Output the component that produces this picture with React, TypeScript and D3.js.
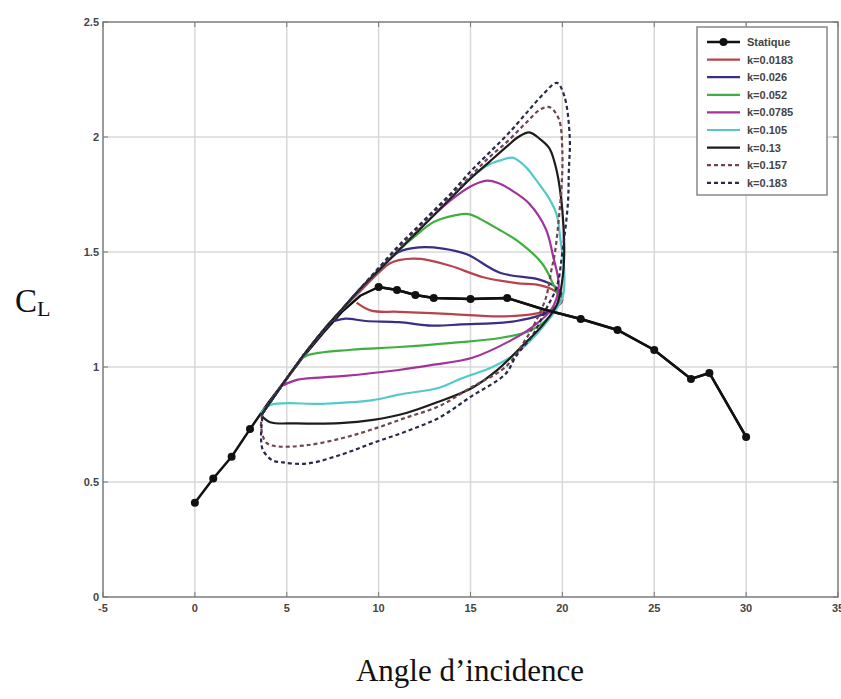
import React from "react";
import * as d3 from "d3";

const xTicks = [-5, 0, 5, 10, 15, 20, 25, 30, 35];
const xTickLabels = ["-5", "0", "5", "10", "15", "20", "25", "30", "35"];
const yTicks = [0, 0.5, 1, 1.5, 2, 2.5];
const yTickLabels = ["0", "0.5", "1", "1.5", "2", "2.5"];

// static curve: line vertices; markers are drawn only on measured points (hidden ones under the loops omitted)
const statique: [number, number][] = [
  [0, 0.41], [1, 0.515], [2, 0.61], [3, 0.73], [4, 0.845], [5, 0.95], [6, 1.055], [7, 1.15],
  [8, 1.24], [9, 1.31], [10, 1.348], [11, 1.335], [12, 1.313], [13, 1.3], [15, 1.296],
  [17, 1.3], [19, 1.25], [21, 1.209], [23, 1.161], [25, 1.074], [27, 0.948], [28, 0.974], [30, 0.696],
];
const statiqueMarkers: [number, number][] = [
  [0, 0.41], [1, 0.515], [2, 0.61], [3, 0.73], [10, 1.348], [11, 1.335], [12, 1.313], [13, 1.3],
  [15, 1.296], [17, 1.3], [21, 1.209], [23, 1.161], [25, 1.074], [27, 0.948], [28, 0.974], [30, 0.696],
];

const k0183: [number, number][] = [
  [3.6, 0.79], [5, 0.95], [6, 1.06], [7, 1.16], [8, 1.25], [9, 1.33], [10, 1.41], [10.6, 1.45],
  [11.1, 1.465], [12.3, 1.47], [13.9, 1.44], [15.7, 1.39], [17.5, 1.365], [18.8, 1.355], [19.6, 1.33],
  [20.0, 1.29], [19.4, 1.25], [18.4, 1.23], [16.6, 1.22], [14, 1.23], [11.1, 1.24], [9.6, 1.245], [8.8, 1.28],
];
const k026: [number, number][] = [
  [3.6, 0.79], [5, 0.95], [6, 1.06], [7, 1.16], [8, 1.25], [9, 1.34], [10, 1.42], [11.1, 1.5],
  [12.2, 1.52], [13.5, 1.515], [14.8, 1.49], [16.6, 1.41], [18.75, 1.38], [19.6, 1.35], [20.0, 1.31],
  [19.5, 1.25], [17.5, 1.2], [14.5, 1.185], [12.9, 1.18], [11.1, 1.195], [9.3, 1.2], [8.2, 1.21], [7.6, 1.2],
];
const k052: [number, number][] = [
  [3.6, 0.79], [5, 0.95], [6, 1.06], [7, 1.16], [8, 1.25], [9, 1.34], [10, 1.42], [11, 1.5], [12, 1.57],
  [13, 1.63], [14.2, 1.66], [14.9, 1.665], [15.5, 1.645], [16.5, 1.6], [17.7, 1.54], [18.9, 1.45],
  [19.5, 1.36], [19.8, 1.3], [19.3, 1.22], [18.3, 1.16], [16.6, 1.126], [14, 1.105], [11.1, 1.087],
  [8.5, 1.075], [6.1, 1.05], [5.6, 1.02],
];
const k0785: [number, number][] = [
  [3.6, 0.79], [5, 0.95], [6, 1.06], [7, 1.16], [8, 1.25], [9, 1.34], [10, 1.42], [11, 1.5], [12, 1.58],
  [13, 1.66], [14, 1.73], [15, 1.785], [15.9, 1.81], [16.5, 1.8], [17.3, 1.765], [18.2, 1.71],
  [19.1, 1.6], [19.5, 1.48], [19.8, 1.35], [19.4, 1.25], [18.3, 1.17], [17.3, 1.12], [15.1, 1.04],
  [13, 1.01], [11.1, 0.987], [8, 0.96], [5.6, 0.945], [4.8, 0.92],
];
const k105: [number, number][] = [
  [3.6, 0.79], [5, 0.95], [6, 1.06], [7, 1.16], [8, 1.25], [9, 1.34], [10, 1.42], [11, 1.5], [12, 1.58],
  [13, 1.66], [14, 1.74], [15, 1.82], [16, 1.88], [16.7, 1.9], [17.3, 1.91], [18.0, 1.87], [18.6, 1.81],
  [19.3, 1.73], [19.7, 1.66], [19.9, 1.55], [20.1, 1.42], [20.0, 1.3], [19.0, 1.18], [17.5, 1.06],
  [16.2, 1.0], [14.5, 0.95], [13.3, 0.91], [11.1, 0.88], [9.7, 0.856], [7, 0.84], [4.1, 0.835], [3.6, 0.8],
];
const k13: [number, number][] = [
  [3.6, 0.79], [5, 0.95], [6, 1.06], [7, 1.16], [8, 1.25], [9, 1.34], [10, 1.42], [11, 1.5], [12, 1.58],
  [13, 1.66], [14, 1.74], [15, 1.82], [16, 1.89], [17, 1.96], [17.6, 2.0], [18.2, 2.02], [18.8, 1.99],
  [19.3, 1.95], [19.7, 1.85], [20.0, 1.68], [20.1, 1.5], [20.0, 1.38], [19.7, 1.27], [18.9, 1.18],
  [17.8, 1.09], [16.5, 0.99], [15.1, 0.91], [13.3, 0.85], [11.5, 0.8], [9.7, 0.77], [7.9, 0.756],
  [5.5, 0.755], [4.1, 0.76], [3.6, 0.79],
];
const k157: [number, number][] = [
  [3.7, 0.8], [5, 0.95], [6, 1.06], [7, 1.16], [8, 1.25], [9, 1.34], [10, 1.43], [11, 1.51], [12, 1.59],
  [13, 1.67], [14, 1.75], [15, 1.83], [16, 1.91], [17, 1.98], [18, 2.06], [18.8, 2.12], [19.3, 2.13],
  [19.8, 2.08], [20.0, 1.93], [19.95, 1.78], [19.8, 1.64], [19.6, 1.5], [19.4, 1.42], [19.1, 1.3],
  [18.5, 1.19], [18, 1.12], [16.9, 1.0], [15, 0.91], [13.3, 0.83], [11.5, 0.78], [9.7, 0.73], [8, 0.69],
  [6.1, 0.66], [4.5, 0.655], [3.9, 0.67], [3.6, 0.74], [3.7, 0.8],
];
const k183: [number, number][] = [
  [3.7, 0.8], [5, 0.95], [6, 1.06], [7, 1.16], [8, 1.25], [9, 1.34], [10, 1.43], [11, 1.52], [12, 1.6],
  [13, 1.68], [14, 1.76], [15, 1.85], [16, 1.93], [17, 2.01], [18, 2.1], [19, 2.19], [19.7, 2.235],
  [20.1, 2.18], [20.4, 2.0], [20.35, 1.85], [20.3, 1.71], [20.0, 1.5], [19.7, 1.35], [19.1, 1.25],
  [18.4, 1.14], [17.5, 1.05], [16.9, 0.97], [15, 0.87], [13.3, 0.78], [11.5, 0.72], [9.7, 0.67],
  [8, 0.62], [6.1, 0.58], [4.8, 0.585], [4.2, 0.595], [3.7, 0.64], [3.6, 0.7], [3.7, 0.8],
];

const seriesNames = ["Statique", "k=0.0183", "k=0.026", "k=0.052", "k=0.0785", "k=0.105", "k=0.13", "k=0.157", "k=0.183"];

const loops = [
  { name: "k=0.0183", data: k0183, color: "#b8434a", dash: "" },
  { name: "k=0.026", data: k026, color: "#3b2c86", dash: "" },
  { name: "k=0.052", data: k052, color: "#3fb03f", dash: "" },
  { name: "k=0.0785", data: k0785, color: "#a2329c", dash: "" },
  { name: "k=0.105", data: k105, color: "#55c9c9", dash: "" },
  { name: "k=0.13", data: k13, color: "#1c1c1c", dash: "" },
  { name: "k=0.157", data: k157, color: "#6e4652", dash: "4 3" },
  { name: "k=0.183", data: k183, color: "#2a2a48", dash: "4 3" },
];

export default function App() {
  const W = 841, H = 699;
  const x = d3.scaleLinear().domain([-5, 35]).range([103, 838]);
  const y = d3.scaleLinear().domain([0, 2.5]).range([597, 22]);
  const line = d3
    .line<[number, number]>()
    .x((d) => x(d[0]))
    .y((d) => y(d[1]))
    .curve(d3.curveCatmullRom.alpha(0.5));
  const straight = d3
    .line<[number, number]>()
    .x((d) => x(d[0]))
    .y((d) => y(d[1]));

  const legX = 697, legY = 27, legW = 130, legH = 168;
  const rowH = 17.6;

  return (
    <div style={{ position: "absolute", left: 0, top: 0, width: W, height: H, background: "#fff" }}>
      <svg width={W} height={H} style={{ display: "block" }}>
        <rect x={0} y={0} width={W} height={H} fill="#fff" />
        {xTicks.map((t) => (
          <line key={"gx" + t} x1={x(t)} x2={x(t)} y1={y(2.5)} y2={y(0)} stroke="#d8d8d8" strokeWidth={1.5} />
        ))}
        {yTicks.map((t) => (
          <line key={"gy" + t} x1={x(-5)} x2={x(35)} y1={y(t)} y2={y(t)} stroke="#d8d8d8" strokeWidth={1.5} />
        ))}
        <rect x={x(-5)} y={y(2.5)} width={x(35) - x(-5)} height={y(0) - y(2.5)} fill="none" stroke="#8a8a8a" strokeWidth={1.6} />
        {xTicks.map((t) => (
          <g key={"tx" + t}>
            <line x1={x(t)} x2={x(t)} y1={y(0)} y2={y(0) - 5} stroke="#777" />
            <line x1={x(t)} x2={x(t)} y1={y(2.5)} y2={y(2.5) + 5} stroke="#777" />
          </g>
        ))}
        {yTicks.map((t) => (
          <g key={"ty" + t}>
            <line x1={x(-5)} x2={x(-5) + 5} y1={y(t)} y2={y(t)} stroke="#777" />
            <line x1={x(35)} x2={x(35) - 5} y1={y(t)} y2={y(t)} stroke="#777" />
          </g>
        ))}
        {xTicks.map((t, i) => (
          <text key={"lx" + t} x={x(t)} y={y(0) + 15} textAnchor="middle" fontFamily="Liberation Sans, Arial, sans-serif" fontSize={11} fontWeight="bold" fill="#444">
            {xTickLabels[i]}
          </text>
        ))}
        {yTicks.map((t, i) => (
          <text key={"ly" + t} x={x(-5) - 4} y={y(t) + 4} textAnchor="end" fontFamily="Liberation Sans, Arial, sans-serif" fontSize={11} fontWeight="bold" fill="#444">
            {yTickLabels[i]}
          </text>
        ))}
        <path d={straight(statique) || ""} fill="none" stroke="#111" strokeWidth={2.5} />
        {loops.map((s) => (
          <path key={s.name} d={line(s.data) || ""} fill="none" stroke={s.color} strokeWidth={2.2} strokeDasharray={s.dash || undefined} strokeLinejoin="round" />
        ))}
        <path d={straight(statique.filter((d) => d[0] >= 10)) || ""} fill="none" stroke="#111" strokeWidth={2.5} />
        {statiqueMarkers.map((d, i) => (
          <circle key={"p" + i} cx={x(d[0])} cy={y(d[1])} r={4} fill="#111" />
        ))}
        <rect x={legX} y={legY} width={legW} height={legH} fill="#fff" stroke="#888" strokeWidth={1.5} />
        {seriesNames.map((n, i) => {
          const cy = legY + 15 + i * rowH;
          const lp = i === 0 ? null : loops[i - 1];
          return (
            <g key={"leg" + n}>
              <line x1={legX + 10} x2={legX + 43} y1={cy} y2={cy} stroke={lp ? lp.color : "#111"} strokeWidth={lp ? 2.2 : 2.5} strokeDasharray={lp && lp.dash ? "4 3" : undefined} />
              {i === 0 && <circle cx={legX + 26.5} cy={cy} r={4} fill="#111" />}
              <text x={legX + 50} y={cy + 4} fontFamily="Liberation Sans, Arial, sans-serif" fontSize={11} fontWeight="bold" fill="#444">
                {n}
              </text>
            </g>
          );
        })}
        <text x={15} y={312} fontFamily="Liberation Serif, Times New Roman, serif" fontSize={33} fill="#111">
          C
          <tspan fontSize={22} dy={4}>L</tspan>
        </text>
        <text x={470} y={681} textAnchor="middle" fontFamily="Liberation Serif, Times New Roman, serif" fontSize={31} fill="#111">
          Angle d’incidence
        </text>
      </svg>
    </div>
  );
}
